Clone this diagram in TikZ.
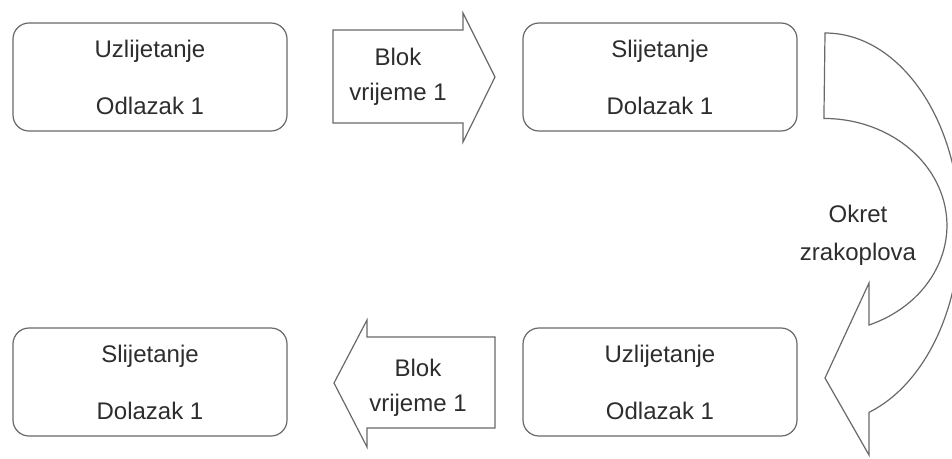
\documentclass[tikz,border=0pt]{standalone}
\usepackage{fontspec}
\setmainfont{Liberation Sans}
\definecolor{rubgray}{RGB}{105,105,105}
\definecolor{txtgray}{RGB}{45,45,45}
\tikzset{
  faza/.style={draw=rubgray, line width=0.9pt, rounded corners=12pt, fill=white,
    minimum width=205.5pt, minimum height=81pt, align=center, text=txtgray,
    font=\fontsize{18}{26}\selectfont},
  oblik/.style={draw=rubgray, line width=0.9pt, fill=white, line join=miter},
  natpis/.style={align=center, text=txtgray, font=\fontsize{18}{26.5}\selectfont, inner sep=0pt}
}
\begin{document}
\begin{tikzpicture}[x=0.75pt, y=0.75pt]
    \useasboundingbox (0,0) rectangle (952,-458);
    \node[faza] (uzl1) at (150,-77) {Uzlijetanje\\[16.75pt]Odlazak 1};
    \node[faza] (sli1) at (660,-77) {Slijetanje\\[16.75pt]Dolazak 1};
    \node[faza] (sli2) at (150,-382) {Slijetanje\\[16.75pt]Dolazak 1};
    \node[faza] (uzl2) at (660,-382) {Uzlijetanje\\[16.75pt]Odlazak 1};
    \draw[oblik] (333,-30) -- (463,-30) -- (463,-13) -- (495,-77) -- (463,-142) -- (463,-123) -- (333,-123) -- cycle;
    \node[natpis] (blok1) at (398,-77) {Blok\\vrijeme 1};
    \draw[oblik] (495,-337) -- (367,-337) -- (367,-320) -- (334,-383) -- (367,-447) -- (367,-428) -- (495,-428) -- cycle;
    \node[natpis] (blok2) at (418,-388) {Blok\\vrijeme 1};
    \draw[oblik] (825,-33) arc[start angle=90, end angle=-70.97, x radius=135, y radius=195]
        -- (869,-455) -- (825,-378) -- (869,-283) -- (869,-325)
        arc[start angle=-68.5, end angle=90, x radius=123, y radius=107] -- cycle;
    \node[natpis, font=\fontsize{18}{28.5}\selectfont] (okret) at (858,-235) {Okret\\zrakoplova};
\end{tikzpicture}
\end{document}
